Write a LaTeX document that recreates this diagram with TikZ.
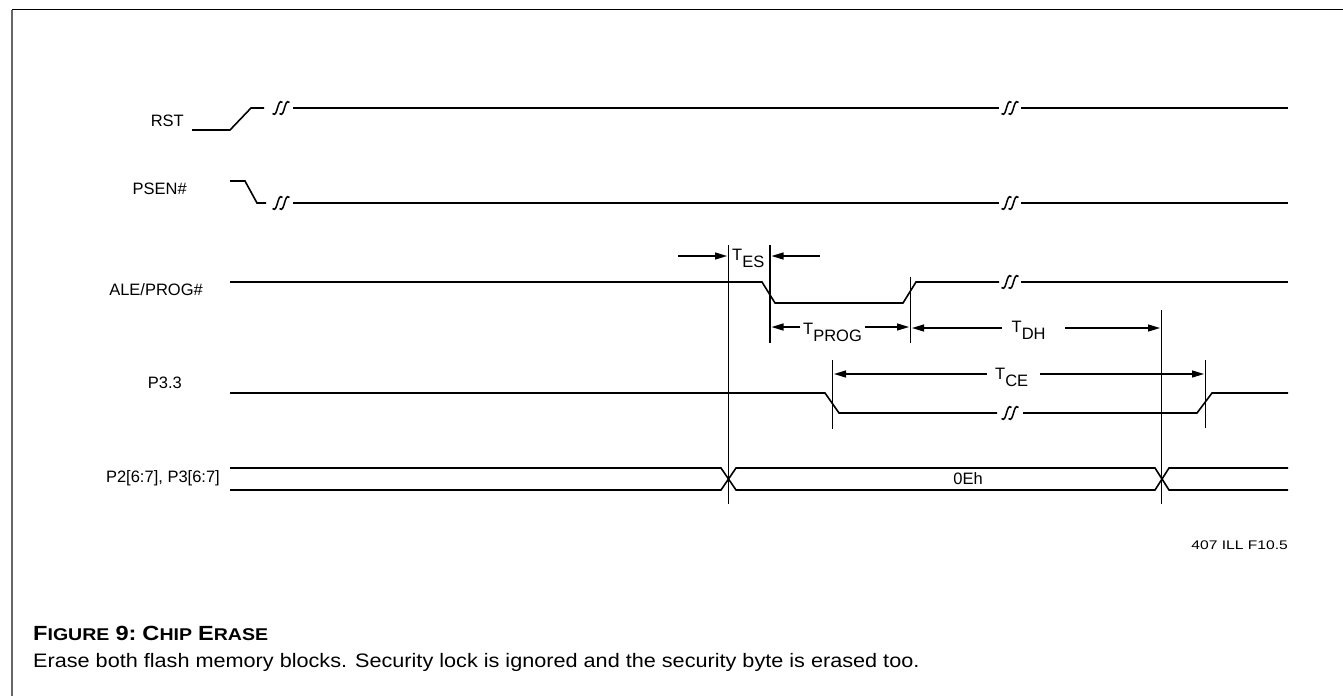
\documentclass[tikz,border=0pt]{standalone}
\usepackage{fontspec}
\setmainfont{Liberation Sans}
\newfontfamily\capfont[FakeStretch=1.15]{Liberation Sans}
\newfontfamily\descfont[FakeStretch=1.11]{Liberation Sans}
\newfontfamily\reffont[FakeStretch=1.25]{Liberation Sans}
\usetikzlibrary{arrows.meta}

% a "T" with a full-size, lowered subscript
\newcommand\tlab[1]{T\raisebox{-7pt}{#1}}
% fake small caps for the caption
\newcommand\capsc[2]{{\fontsize{20.5}{24}\selectfont #1}{\fontsize{17}{20}\selectfont #2}}

\tikzset{
  sig/.style={line width=1.6pt, line join=miter},
  mark line/.style={line width=1.3pt},
  dim/.style={line width=1.3pt, -{Triangle[length=12pt,width=7pt]}},
  siglabel/.style={anchor=east, inner sep=0pt, font=\fontsize{16.5}{19}\selectfont},
  tlabel/.style={anchor=base west, inner sep=3pt, font=\fontsize{16.5}{19}\selectfont},
  brk/.pic={
    \draw[line width=1.5pt] (-8.5,5.5) .. controls (-5.5,8.5) and (-4.5,3) .. (-3.5,0)
                                     .. controls (-2.5,-3) and (-1.5,-8.5) .. (1.5,-5.5);
    \draw[line width=1.5pt] (-1.5,5.5) .. controls (1.5,8.5) and (2.5,3) .. (3.5,0)
                                     .. controls (4.5,-3) and (5.5,-8.5) .. (8.5,-5.5);
  }
}

\begin{document}
\begin{tikzpicture}[x=1pt,y=-1pt]
\useasboundingbox (0,0) rectangle (1343,696);
\fill[white] (0,0) rectangle (1343,696);

% frame
\draw[line width=1.4pt, black] (12,9.5) -- (1343,9.5);
\draw[line width=1.5pt, black!60] (12,9.5) -- (12,696);

% signal names
\node[siglabel] (rst)  at (184,121) {RST};
\node[siglabel] (psen) at (187,189) {PSEN\#};
\node[siglabel] (ale)  at (203,290) {ALE/PROG\#};
\node[siglabel] (p33)  at (182,383) {P3.3};
\node[siglabel] (bus)  at (220,478) {P2[6:7], P3[6:7]};

% RST
\draw[sig] (192,130) -- (230,130) -- (251,108) -- (264,108);
\pic at (281,108) {brk};
\draw[sig] (293,108) -- (999,108);
\pic at (1010,108) {brk};
\draw[sig] (1021,108) -- (1288,108);

% PSEN#
\draw[sig] (230,181) -- (245,181) -- (257,203) -- (266,203);
\pic at (281,203) {brk};
\draw[sig] (293,203) -- (999,203);
\pic at (1010,203) {brk};
\draw[sig] (1021,203) -- (1288,203);

% ALE/PROG#
\draw[sig] (230,282) -- (762,282) -- (775,303) -- (903,303) -- (916,282) -- (999,282);
\pic at (1010,282) {brk};
\draw[sig] (1021,282) -- (1288,282);

% P3.3
\draw[sig] (230,393) -- (825,393) -- (839,413) -- (997,413);
\pic at (1010,413) {brk};
\draw[sig] (1023,413) -- (1197,413) -- (1212,393) -- (1288,393);

% P2[6:7], P3[6:7] bus
\draw[sig] (230,468) -- (721,468) -- (736,490) -- (1155,490) -- (1169,468) -- (1288,468);
\draw[sig] (230,490) -- (721,490) -- (736,468) -- (1155,468) -- (1169,490) -- (1288,490);
\node[font=\fontsize{16.5}{19}\selectfont] (data) at (968,479) {0Eh};

% timing reference lines
\coordinate (v1t) at (728.5,245);  \coordinate (v1b) at (728.5,504);
\coordinate (v2t) at (770,245);    \coordinate (v2b) at (770,343);
\coordinate (v3t) at (910.5,277);  \coordinate (v3b) at (910.5,343);
\coordinate (v4t) at (1161.7,310); \coordinate (v4b) at (1161.7,504);
\coordinate (v5t) at (832.3,360);  \coordinate (v5b) at (832.3,429);
\coordinate (v6t) at (1205.7,360); \coordinate (v6b) at (1205.7,428);
\foreach \v in {v1,v2,v3,v4,v5,v6} \draw[mark line] (\v t) -- (\v b);

% T_ES
\node[tlabel] (tes) at (729,260) {\tlab{ES}};
\coordinate (tesA) at (678,256); \coordinate (tesB) at (820,256);
\draw[dim] (tesA) -- (727,256);
\draw[dim] (tesB) -- (771.5,256);

% T_PROG
\node[tlabel] (tprog) at (800,334) {\tlab{PROG}};
\draw[dim] (tprog.west |- 0,327) -- (771.5,327);
\draw[dim] (tprog.east |- 0,327) -- (909,327);

% T_DH
\node[tlabel] (tdh) at (1008.5,332) {\tlab{DH}};
\coordinate (tdhA) at (1002,328); \coordinate (tdhB) at (1065,328);
\draw[dim] (tdhA) -- (912,328);
\draw[dim] (tdhB) -- (1160,328);

% T_CE
\node[tlabel] (tce) at (992,379) {\tlab{CE}};
\coordinate (tceA) at (987,374); \coordinate (tceB) at (1040,374);
\draw[dim] (tceA) -- (834,374);
\draw[dim] (tceB) -- (1204,374);

% drawing reference
\node[anchor=east, inner sep=0pt, font=\reffont\fontsize{12.5}{14}\selectfont] (ref) at (1288,545) {407 ILL F10.5};

% caption
\node[anchor=base west, inner sep=0pt, font=\capfont\bfseries] (cap) at (33,640.7)
  {\capsc{F}{IGURE}\hspace{6pt}{\fontsize{20.5}{24}\selectfont 9:}\hspace{6pt}\capsc{C}{HIP}\hspace{6pt}\capsc{E}{RASE}};
\node[anchor=base west, inner sep=0pt, font=\descfont\fontsize{19.5}{22}\selectfont] (desc) at (33,667.7)
  {Erase both flash memory blocks. Security lock is ignored and the security byte is erased too.};
\end{tikzpicture}
\end{document}
